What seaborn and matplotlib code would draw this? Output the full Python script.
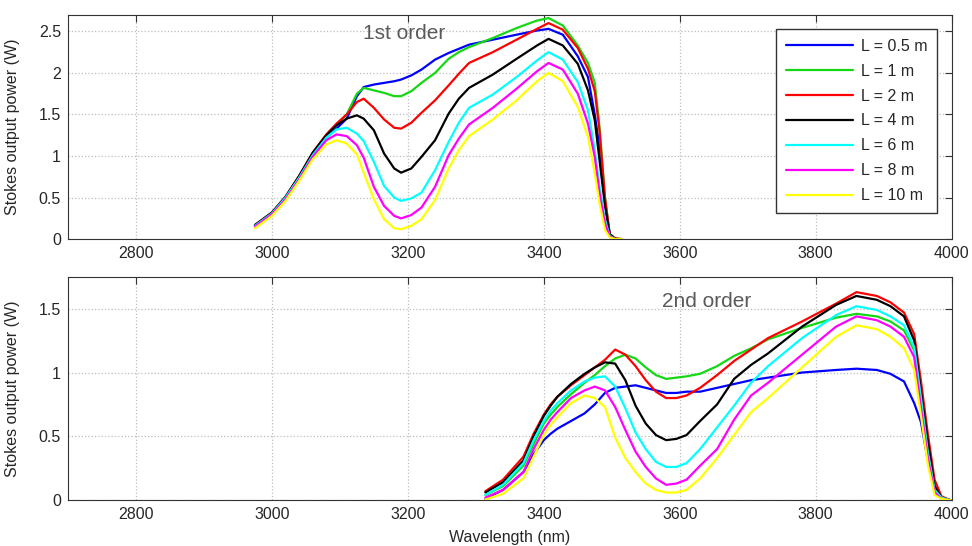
import numpy as np
import pandas as pd
import seaborn as sns
import matplotlib
matplotlib.use("Agg")
import matplotlib.pyplot as plt

labels = ["L = 0.5 m", "L = 1 m", "L = 2 m", "L = 4 m", "L = 6 m", "L = 8 m", "L = 10 m"]
colors = ["#0000ff", "#14d814", "#ff0000", "#000000", "#00ffff", "#ff00ff", "#ffff00"]

# 1st order Stokes (top panel)
wl_1st = [2975, 3000, 3020, 3040, 3060, 3080, 3095, 3110, 3125, 3135, 3150, 3165, 3180, 3190, 3205, 3220,
          3240, 3260, 3275, 3290, 3325, 3360, 3390, 3407, 3428, 3450, 3465, 3475, 3482, 3490, 3497, 3505, 3515]
p1_05 = [0.16, 0.31, 0.50, 0.75, 1.02, 1.22, 1.33, 1.45, 1.72, 1.83, 1.86, 1.88, 1.90, 1.92, 1.97, 2.04,
         2.16, 2.24, 2.29, 2.34, 2.40, 2.46, 2.51, 2.53, 2.46, 2.20, 1.95, 1.50, 1.10, 0.45, 0.05, 0.0, 0.0]
p1_1 = [0.16, 0.31, 0.50, 0.75, 1.02, 1.24, 1.38, 1.50, 1.75, 1.82, 1.79, 1.76, 1.72, 1.72, 1.78, 1.88,
        2.00, 2.17, 2.25, 2.31, 2.42, 2.54, 2.63, 2.66, 2.57, 2.33, 2.12, 1.88, 1.35, 0.50, 0.06, 0.01, 0.0]
p1_2 = [0.17, 0.32, 0.51, 0.76, 1.04, 1.26, 1.39, 1.50, 1.65, 1.69, 1.58, 1.44, 1.34, 1.33, 1.40, 1.52,
        1.67, 1.85, 1.99, 2.12, 2.25, 2.40, 2.53, 2.60, 2.52, 2.30, 2.05, 1.78, 1.30, 0.50, 0.06, 0.01, 0.0]
p1_4 = [0.17, 0.32, 0.51, 0.76, 1.04, 1.25, 1.37, 1.45, 1.49, 1.45, 1.31, 1.03, 0.85, 0.80, 0.85, 0.99,
        1.19, 1.51, 1.69, 1.82, 1.98, 2.17, 2.33, 2.41, 2.33, 2.11, 1.79, 1.43, 0.95, 0.40, 0.06, 0.0, 0.0]
p1_6 = [0.16, 0.31, 0.50, 0.74, 1.01, 1.22, 1.32, 1.34, 1.27, 1.18, 0.93, 0.64, 0.50, 0.46, 0.49, 0.56,
        0.83, 1.17, 1.40, 1.58, 1.74, 1.95, 2.15, 2.25, 2.16, 1.89, 1.55, 1.07, 0.63, 0.23, 0.04, 0.0, 0.0]
p1_8 = [0.15, 0.30, 0.48, 0.72, 0.99, 1.19, 1.26, 1.24, 1.13, 0.98, 0.63, 0.40, 0.28, 0.25, 0.29, 0.38,
        0.63, 1.01, 1.21, 1.38, 1.58, 1.81, 2.02, 2.12, 2.04, 1.75, 1.39, 0.99, 0.55, 0.19, 0.03, 0.0, 0.0]
p1_10 = [0.13, 0.28, 0.46, 0.70, 0.96, 1.14, 1.19, 1.15, 1.02, 0.80, 0.48, 0.24, 0.13, 0.12, 0.16, 0.24,
         0.47, 0.85, 1.07, 1.24, 1.44, 1.67, 1.90, 2.00, 1.90, 1.59, 1.23, 0.79, 0.43, 0.11, 0.02, 0.0, 0.0]

# 2nd order Stokes (bottom panel)
wl_2nd = [3314, 3340, 3370, 3385, 3400, 3410, 3420, 3440, 3460, 3475, 3490, 3505, 3520, 3535, 3550, 3565, 3580,
          3595, 3610, 3630, 3655, 3680, 3705, 3730, 3780, 3830, 3860, 3890, 3910, 3930, 3945, 3955, 3965, 3975,
          3985, 3998]
p2_05 = [0.01, 0.08, 0.22, 0.36, 0.47, 0.52, 0.56, 0.62, 0.68, 0.75, 0.84, 0.88, 0.89, 0.90, 0.88, 0.86, 0.84,
         0.84, 0.85, 0.85, 0.88, 0.91, 0.94, 0.96, 1.00, 1.02, 1.03, 1.02, 0.99, 0.93, 0.76, 0.61, 0.31, 0.10,
         0.02, 0.0]
p2_1 = [0.04, 0.11, 0.27, 0.44, 0.60, 0.67, 0.73, 0.83, 0.92, 0.98, 1.05, 1.11, 1.14, 1.11, 1.04, 0.98, 0.95,
        0.96, 0.97, 0.99, 1.05, 1.13, 1.19, 1.26, 1.35, 1.43, 1.46, 1.44, 1.40, 1.33, 1.17, 0.80, 0.38, 0.11,
        0.02, 0.0]
p2_2 = [0.07, 0.16, 0.34, 0.52, 0.67, 0.75, 0.81, 0.90, 0.98, 1.04, 1.10, 1.18, 1.14, 1.05, 0.94, 0.85, 0.80,
        0.80, 0.82, 0.88, 0.98, 1.09, 1.18, 1.27, 1.40, 1.54, 1.63, 1.60, 1.55, 1.47, 1.30, 0.93, 0.52, 0.16,
        0.03, 0.0]
p2_4 = [0.06, 0.14, 0.31, 0.50, 0.66, 0.74, 0.81, 0.91, 0.99, 1.04, 1.08, 1.07, 0.94, 0.74, 0.60, 0.51, 0.47,
        0.48, 0.51, 0.62, 0.75, 0.95, 1.06, 1.15, 1.36, 1.53, 1.60, 1.57, 1.52, 1.44, 1.25, 0.85, 0.46, 0.11,
        0.02, 0.0]
p2_6 = [0.04, 0.12, 0.29, 0.47, 0.62, 0.70, 0.76, 0.86, 0.93, 0.96, 0.97, 0.89, 0.72, 0.53, 0.40, 0.30, 0.26,
        0.26, 0.29, 0.40, 0.57, 0.74, 0.92, 1.05, 1.27, 1.45, 1.52, 1.49, 1.44, 1.37, 1.20, 0.80, 0.38, 0.08,
        0.02, 0.0]
p2_8 = [0.02, 0.08, 0.22, 0.40, 0.55, 0.63, 0.69, 0.80, 0.86, 0.89, 0.86, 0.73, 0.55, 0.38, 0.26, 0.17, 0.12,
        0.13, 0.16, 0.27, 0.40, 0.63, 0.82, 0.92, 1.14, 1.36, 1.44, 1.41, 1.36, 1.28, 1.12, 0.72, 0.33, 0.06,
        0.01, 0.0]
p2_10 = [0.005, 0.05, 0.17, 0.34, 0.51, 0.59, 0.65, 0.76, 0.82, 0.80, 0.73, 0.49, 0.33, 0.22, 0.13, 0.08, 0.06,
         0.06, 0.08, 0.17, 0.33, 0.51, 0.69, 0.80, 1.04, 1.28, 1.37, 1.34, 1.28, 1.19, 1.02, 0.66, 0.28, 0.04,
         0.01, 0.0]

x_ticks = [2800, 3000, 3200, 3400, 3600, 3800, 4000]
y_ticks_top = [0, 0.5, 1, 1.5, 2, 2.5]
y_ticks_bot = [0, 0.5, 1, 1.5]


def long_frame(wl, series):
    rows = []
    for lab, vals in zip(labels, series):
        rows.append(pd.DataFrame({"wavelength": wl, "power": vals, "length": lab}))
    return pd.concat(rows, ignore_index=True)


df_top = long_frame(wl_1st, [p1_05, p1_1, p1_2, p1_4, p1_6, p1_8, p1_10])
df_bot = long_frame(wl_2nd, [p2_05, p2_1, p2_2, p2_4, p2_6, p2_8, p2_10])

sns.set_style("white")
plt.rcParams["font.family"] = ["Liberation Sans", "DejaVu Sans"]

fig = plt.figure(figsize=(9.72, 5.46), dpi=100)
ax1 = fig.add_axes([0.070, 0.562, 0.909, 0.411])
ax2 = fig.add_axes([0.070, 0.084, 0.909, 0.409])
palette = dict(zip(labels, colors))

sns.lineplot(data=df_top, x="wavelength", y="power", hue="length", palette=palette,
             hue_order=labels, linewidth=1.6, ax=ax1)
sns.lineplot(data=df_bot, x="wavelength", y="power", hue="length", palette=palette,
             hue_order=labels, linewidth=1.6, ax=ax2, legend=False)

for ax, yt, ytop in [(ax1, y_ticks_top, 2.7), (ax2, y_ticks_bot, 1.75)]:
    ax.set_xlim(2700, 4000)
    ax.set_ylim(0, ytop)
    ax.set_xticks(x_ticks)
    ax.set_yticks(yt)
    ax.set_yticklabels([f"{v:g}" for v in yt])
    ax.grid(True, linestyle=":", color="#bdbdbd", linewidth=0.9)
    ax.tick_params(direction="in", top=True, right=True, length=5, width=0.8,
                   color="#333333", labelsize=11.5, pad=5)
    for s in ax.spines.values():
        s.set_visible(True)
        s.set_color("#333333")
        s.set_linewidth(0.8)
    ax.set_ylabel("Stokes output power (W)", fontsize=11.5)
    ax.yaxis.set_label_coords(-0.054, 0.5)
    ax.set_xlabel("")

ax2.set_xlabel("Wavelength (nm)", fontsize=11.5)
ax2.xaxis.set_label_coords(0.5, -0.135)

ax1.text(3194, 2.47, "1st order", fontsize=15, color="#5a5a5a", ha="center", va="center")
ax2.text(3640, 1.56, "2nd order", fontsize=15, color="#5a5a5a", ha="center", va="center")

ax1.legend(loc="upper right", fontsize=11.5, frameon=True, fancybox=False, edgecolor="#333333",
           framealpha=1, handlelength=4.2, handletextpad=0.5, labelspacing=0.62,
           borderaxespad=0.9, borderpad=0.6, title=None)

fig.savefig("out.png", dpi=100)
